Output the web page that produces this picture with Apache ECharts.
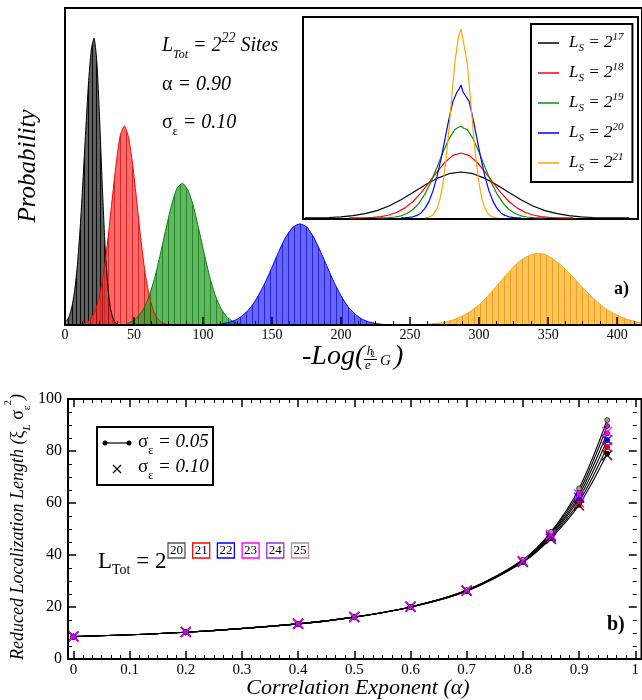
<!DOCTYPE html>
<html>
<head>
<meta charset="utf-8">
<script src="https://cdn.jsdelivr.net/npm/echarts@6.0.0/dist/echarts.min.js"></script>
<style>
html, body { margin: 0; padding: 0; background: #fff; }
#chart { width: 642px; height: 700px; }
</style>
</head>
<body>
<div id="chart"></div>
<script>
// panel a) histograms of -Log(h/e^2 G), heights relative to panel height
const blackX = [1, 3, 5, 7, 9, 11, 13, 15, 17, 19, 21, 23, 25, 27, 29, 31, 33, 35, 37, 39, 41];
const blackP = [0.012, 0.027, 0.057, 0.109, 0.19, 0.307, 0.454, 0.613, 0.761, 0.867, 0.905, 0.835, 0.657, 0.441, 0.251, 0.122, 0.051, 0.018, 0.005, 0.001, 0];
const redX = [13, 16, 19, 22, 25, 28, 31, 34, 37, 40, 43, 46, 49, 52, 55, 58, 61, 64, 67, 70, 73];
const redP = [0.003, 0.0085, 0.021, 0.046, 0.093, 0.166, 0.268, 0.389, 0.507, 0.598, 0.628, 0.592, 0.507, 0.389, 0.268, 0.166, 0.093, 0.046, 0.021, 0.0085, 0.003];
const greenX = [45, 49, 53, 57, 61, 65, 69, 73, 77, 81, 85, 89, 93, 97, 101, 105, 109, 113, 117, 121, 125, 129];
const greenP = [0.0055, 0.0127, 0.027, 0.052, 0.092, 0.149, 0.222, 0.301, 0.375, 0.43, 0.447, 0.426, 0.375, 0.301, 0.222, 0.149, 0.092, 0.052, 0.027, 0.0127, 0.0055, 0.002];
const blueX = [110, 115, 120, 125, 130, 135, 140, 145, 150, 155, 160, 165, 170, 175, 180, 185, 190, 195, 200, 205, 210, 215, 220, 225, 230];
const blueP = [0.0022, 0.0048, 0.010, 0.019, 0.035, 0.058, 0.092, 0.134, 0.183, 0.233, 0.278, 0.308, 0.319, 0.31, 0.278, 0.233, 0.183, 0.134, 0.092, 0.058, 0.035, 0.019, 0.010, 0.0048, 0.0022];
const orangeX = [258, 264, 270, 276, 282, 288, 294, 300, 306, 312, 318, 324, 330, 336, 342, 348, 354, 360, 366, 372, 378, 384, 390, 396, 402, 408, 414, 420];
const orangeP = [0.0015, 0.003, 0.0056, 0.010, 0.0175, 0.028, 0.044, 0.064, 0.090, 0.119, 0.150, 0.179, 0.204, 0.218, 0.226, 0.222, 0.207, 0.186, 0.160, 0.132, 0.105, 0.079, 0.057, 0.040, 0.027, 0.017, 0.010, 0.006];

// inset: distributions for each L_S, centred
const insetBlackX = [-156, -144, -132, -120, -108, -96, -84, -72, -60, -48, -36, -24, -12, 0, 12, 24, 36, 48, 60, 72, 84, 96, 108, 120, 132, 144, 156, 168];
const insetBlackY = [0.08, 0.22, 0.51, 1.1, 2.3, 4.3, 7.4, 12.0, 18.2, 25.4, 32.9, 39.6, 44.3, 46, 44.3, 39.6, 32.9, 25.4, 18.2, 12.0, 7.4, 4.3, 2.3, 1.1, 0.51, 0.22, 0.08, 0.03];
const insetRedX = [-112, -104, -96, -88, -80, -72, -64, -56, -48, -40, -32, -24, -16, -8, 0, 8, 16, 24, 32, 40, 48, 56, 64, 72, 80, 88, 96, 104, 112];
const insetRedY = [0.04, 0.10, 0.27, 0.65, 1.45, 3.0, 5.7, 10.1, 16.5, 25.1, 35.4, 46.2, 55.8, 62.6, 65, 62.6, 55.8, 46.2, 35.4, 25.1, 16.5, 10.1, 5.7, 3.0, 1.45, 0.65, 0.27, 0.10, 0.04];
const insetGreenX = [-84, -78, -72, -66, -60, -54, -48, -42, -36, -30, -24, -18, -12, -6, -3, 0, 3, 6, 12, 18, 24, 30, 36, 42, 48, 54, 60, 66, 72, 78, 84];
const insetGreenY = [0.06, 0.17, 0.43, 1.02, 2.2, 4.5, 8.5, 14.9, 24.1, 36.3, 50.8, 65.9, 79.3, 88.6, 90.5, 92, 89.5, 88.6, 79.3, 65.9, 50.8, 36.3, 24.1, 14.9, 8.5, 4.5, 2.2, 1.02, 0.43, 0.17, 0.06];
const insetBlueX = [-60, -56, -52, -48, -44, -40, -36, -32, -28, -24, -20, -16, -12, -8, -4, -2, 0, 2, 4, 8, 12, 16, 20, 24, 28, 32, 36, 40, 44, 48, 52, 56, 60];
const insetBlueY = [0.09, 0.23, 0.56, 1.2, 2.6, 5.1, 9.6, 16.6, 27.1, 41.3, 59.2, 79.1, 99.3, 116.8, 126, 128.7, 133, 126, 125.5, 116.8, 99.3, 79.1, 59.2, 41.3, 27.1, 16.6, 9.6, 5.1, 2.6, 1.2, 0.56, 0.23, 0.09];
const insetOrangeX = [-36, -33, -30, -27, -24, -21, -18, -15, -12, -9, -6, -3, -1.5, 0, 1.5, 3, 6, 9, 12, 15, 18, 21, 24, 27, 30, 33, 36];
const insetOrangeY = [0.22, 0.65, 1.75, 4.2, 9.4, 19.1, 34.9, 58.6, 89.2, 124, 156.7, 178, 185, 189, 181, 180.3, 156.7, 124, 89.2, 58.6, 34.9, 19.1, 9.4, 4.2, 1.75, 0.65, 0.22];

// panel b) reduced localization length vs alpha
const alphaVals = [0, 0.2, 0.4, 0.5, 0.6, 0.7, 0.8, 0.85, 0.9, 0.95];
const xi05_L20 = [8.6, 10.3, 13.5, 16.1, 20.0, 26.1, 37.2, 46.4, 59.3, 79.0];
const xi05_L21 = [8.6, 10.3, 13.5, 16.1, 20.0, 26.2, 37.4, 46.9, 60.5, 81.5];
const xi05_L22 = [8.6, 10.3, 13.5, 16.1, 20.0, 26.3, 37.6, 47.4, 61.8, 84.2];
const xi05_L23 = [8.6, 10.3, 13.5, 16.1, 20.0, 26.3, 37.8, 47.9, 63.0, 86.8];
const xi05_L24 = [8.6, 10.3, 13.5, 16.1, 20.0, 26.4, 38.0, 48.4, 64.3, 89.6];
const xi05_L25 = [8.6, 10.3, 13.5, 16.1, 20.0, 26.5, 38.2, 48.9, 65.6, 91.9];
const xi10_L20 = [8.7, 10.4, 13.6, 16.2, 20.1, 26.2, 37.3, 46.2, 59.0, 78.4];
const xi10_L21 = [8.7, 10.4, 13.6, 16.2, 20.1, 26.3, 37.4, 46.7, 60.2, 81.5];
const xi10_L22 = [8.7, 10.4, 13.6, 16.2, 20.1, 26.3, 37.6, 47.2, 62.0, 84.2];
const xi10_L23 = [8.7, 10.4, 13.6, 16.2, 20.1, 26.3, 37.7, 47.8, 63.3, 87.3];
const totExponents = ['20', '21', '22', '23', '24', '25'];
const totColors = ['#000000', '#ff0000', '#0000ff', '#ff00ff', '#9932cc', '#bc8f8f'];

const SERIF = '"Liberation Serif", "DejaVu Serif", serif';
const CROSS = 'path://M1,0 L5,4 L9,0 L10,1 L6,5 L10,9 L9,10 L5,6 L1,10 L0,9 L4,5 L0,1 Z';

const chart = echarts.init(document.getElementById('chart'));

const pairs = (xs, ys) => xs.map((x, i) => [x, ys[i]]);

// vertical striped fill like the printed histogram bars
const stripeFill = (light, dark, period) => {
  const c = document.createElement('canvas');
  c.width = period;
  c.height = 4;
  const g = c.getContext('2d');
  g.fillStyle = light;
  g.fillRect(0, 0, period, 4);
  g.clearRect(0, 0, 1, 4);
  g.fillStyle = dark;
  g.fillRect(0, 0, 1, 4);
  return { image: c, repeat: 'repeat' };
};

const histSeries = (xs, ps, line, fill) => ({
  type: 'line',
  xAxisIndex: 0,
  yAxisIndex: 0,
  data: pairs(xs, ps),
  symbol: 'none',
  smooth: 0.2,
  silent: true,
  z: 1,
  lineStyle: { color: line, width: 1 },
  areaStyle: { color: fill, opacity: 1 },
});

const insetSeries = (name, xs, ys, color) => ({
  name: name,
  type: 'line',
  xAxisIndex: 1,
  yAxisIndex: 1,
  data: pairs(xs, ys),
  symbol: 'none',
  lineStyle: { color: color, width: 1.2 },
  itemStyle: { color: color },
});

const xiLine = (vals, color) => ({
  type: 'line',
  xAxisIndex: 2,
  yAxisIndex: 2,
  data: pairs(alphaVals, vals),
  smooth: 0.35,
  symbol: 'circle',
  symbolSize: 5,
  lineStyle: { color: '#000', width: 1.1 },
  itemStyle: { color: color, borderColor: '#000', borderWidth: 0.6 },
  z: 3,
});

const xiCross = (vals, color) => ({
  type: 'scatter',
  xAxisIndex: 2,
  yAxisIndex: 2,
  data: pairs(alphaVals, vals),
  symbol: CROSS,
  symbolSize: 11,
  itemStyle: { color: color },
  z: 4,
});

const tickAxis = (extra) => Object.assign({
  type: 'value',
  axisLine: { show: false, onZero: false },
  axisTick: { inside: true, length: 8, lineStyle: { color: '#000', width: 1.5 } },
  minorTick: { show: true, length: 4, lineStyle: { color: '#000', width: 1 } },
  splitLine: { show: false },
  axisLabel: { color: '#000', fontFamily: SERIF, fontSize: 15 },
}, extra);

const serifStyle = (size) => ({
  i: { fontFamily: SERIF, fontStyle: 'italic', fontSize: size, lineHeight: 30, fill: '#000' },
  g: { fontFamily: SERIF, fontSize: size, lineHeight: 30, fill: '#000' },
  b: { fontFamily: SERIF, fontSize: size, lineHeight: 30, fill: '#000' },
  sub: { fontFamily: SERIF, fontStyle: 'italic', fontSize: Math.round(size * 0.62), lineHeight: 12, verticalAlign: 'bottom', fill: '#000' },
  subr: { fontFamily: SERIF, fontSize: Math.round(size * 0.62), lineHeight: 12, verticalAlign: 'bottom', fill: '#000' },
  sup: { fontFamily: SERIF, fontStyle: 'italic', fontSize: Math.round(size * 0.68), lineHeight: 12, verticalAlign: 'top', fill: '#000' },
  supr: { fontFamily: SERIF, fontSize: Math.round(size * 0.62), lineHeight: 12, verticalAlign: 'top', fill: '#000' },
});

const richText = (x, y, text, size, rot) => ({
  type: 'text',
  x: x,
  y: y,
  rotation: rot || 0,
  z: 20,
  style: { text: text, rich: serifStyle(size), align: rot ? 'center' : 'left', verticalAlign: 'middle' },
});

const plainText = (x, y, text, size, opts) => ({
  type: 'text',
  x: x,
  y: y,
  z: 20,
  style: Object.assign({
    text: text, fontFamily: SERIF, fontSize: size, fill: '#000',
    align: 'left', verticalAlign: 'middle',
  }, opts || {}),
});

// little boxed exponents next to L_Tot = 2
const totBoxes = [];
totExponents.forEach((e, i) => {
  const bx = 168 + i * 24.7;
  totBoxes.push({
    type: 'rect', z: 20,
    shape: { x: bx, y: 543, width: 17, height: 15 },
    style: { fill: 'none', stroke: totColors[i] === '#000000' ? '#555' : totColors[i], lineWidth: 1.3 },
  });
  totBoxes.push(plainText(bx + 8.5, 550.5, e, 13, { align: 'center' }));
});

const option = {
  backgroundColor: '#fff',
  animation: false,
  grid: [
    { left: 65, top: 8, width: 580, height: 317, show: true, borderColor: '#000', borderWidth: 2, backgroundColor: 'transparent' },
    { left: 303, top: 17, width: 335, height: 202, show: true, borderColor: '#000', borderWidth: 2, backgroundColor: '#fff' },
    { left: 73.4, top: 399, width: 566.6, height: 260 },
  ],
  xAxis: [
    tickAxis({
      gridIndex: 0, min: 0, max: 418, interval: 50, position: 'bottom', z: 5,
      axisLine: { show: true, onZero: false, lineStyle: { color: '#000', width: 2 } },
      minorTick: { show: true, splitNumber: 4, length: 4, lineStyle: { color: '#000', width: 1 } },
      axisLabel: { color: '#000', fontFamily: SERIF, fontSize: 14, margin: 3, showMaxLabel: false },
    }),
    { gridIndex: 1, type: 'value', min: -158, max: 177, show: false },
    tickAxis({
      gridIndex: 2, min: 0, max: 1, interval: 0.1, position: 'bottom',
      minorTick: { show: true, splitNumber: 6, length: 4, lineStyle: { color: '#000', width: 1 } },
      axisLabel: {
        color: '#000', fontFamily: SERIF, fontSize: 15, margin: 4,
        formatter: (v) => (v === 0 ? '0' : v === 1 ? '1' : v.toFixed(1)),
      },
    }),
    tickAxis({
      gridIndex: 2, min: 0, max: 1, interval: 0.1, position: 'top',
      minorTick: { show: true, splitNumber: 6, length: 4, lineStyle: { color: '#000', width: 1 } },
      axisLabel: { show: false },
    }),
  ],
  yAxis: [
    { gridIndex: 0, type: 'value', min: 0, max: 1, show: false },
    { gridIndex: 1, type: 'value', min: -1, max: 201, show: false },
    tickAxis({
      gridIndex: 2, min: 0, max: 100, interval: 20, position: 'left', offset: 5.4,
      minorTick: { show: true, splitNumber: 4, length: 4, lineStyle: { color: '#000', width: 1 } },
      axisLabel: { color: '#000', fontFamily: SERIF, fontSize: 16, margin: 6 },
    }),
    tickAxis({
      gridIndex: 2, min: 0, max: 100, interval: 20, position: 'right', offset: 1.5,
      minorTick: { show: true, splitNumber: 4, length: 4, lineStyle: { color: '#000', width: 1 } },
      axisLabel: { show: false },
    }),
  ],
  legend: {
    data: ['L17', 'L18', 'L19', 'L20', 'L21'],
    orient: 'vertical',
    left: 531,
    top: 24,
    padding: [8, 9, 8, 7],
    itemGap: 8,
    itemWidth: 21,
    itemHeight: 1.5,
    icon: 'rect',
    borderColor: '#000',
    borderWidth: 2,
    backgroundColor: '#fff',
    selectedMode: false,
    formatter: (n) => '{i|L}{sub|S}{i| = 2}{sup|' + n.slice(1) + '}',
    textStyle: {
      padding: [0, 0, 0, 5],
      rich: {
        i: { fontFamily: SERIF, fontStyle: 'italic', fontSize: 17, lineHeight: 22, color: '#000' },
        sub: { fontFamily: SERIF, fontStyle: 'italic', fontSize: 11, lineHeight: 11, verticalAlign: 'bottom', color: '#000' },
        sup: { fontFamily: SERIF, fontStyle: 'italic', fontSize: 11, lineHeight: 11, verticalAlign: 'top', color: '#000' },
      },
    },
  },
  series: [
    histSeries(blackX, blackP, '#000', stripeFill('rgba(80,80,80,0.9)', 'rgba(0,0,0,0.95)', 4)),
    histSeries(redX, redP, '#ff0000', stripeFill('rgba(255,55,55,0.75)', 'rgba(205,0,0,0.85)', 6)),
    histSeries(greenX, greenP, '#008000', stripeFill('rgba(45,160,45,0.75)', 'rgba(0,115,0,0.85)', 6)),
    histSeries(blueX, blueP, '#0000ff', stripeFill('rgba(50,50,255,0.75)', 'rgba(0,0,200,0.85)', 6)),
    histSeries(orangeX, orangeP, '#ffa500', stripeFill('rgba(255,180,50,0.8)', 'rgba(235,150,0,0.9)', 6)),
    insetSeries('L17', insetBlackX, insetBlackY, '#000000'),
    insetSeries('L18', insetRedX, insetRedY, '#ff0000'),
    insetSeries('L19', insetGreenX, insetGreenY, '#108c10'),
    insetSeries('L20', insetBlueX, insetBlueY, '#0000ff'),
    insetSeries('L21', insetOrangeX, insetOrangeY, '#ffa500'),
    xiLine(xi05_L20, totColors[0]),
    xiLine(xi05_L21, totColors[1]),
    xiLine(xi05_L22, totColors[2]),
    xiLine(xi05_L23, totColors[3]),
    xiLine(xi05_L24, totColors[4]),
    xiLine(xi05_L25, totColors[5]),
    xiCross(xi10_L20, totColors[0]),
    xiCross(xi10_L21, totColors[1]),
    xiCross(xi10_L22, totColors[2]),
    xiCross(xi10_L23, totColors[3]),
  ],
  graphic: [
    // panel a) labels
    richText(28, 166, '{i|Probability}', 25, Math.PI / 2),
    plainText(302, 357, '-Log(', 28, { fontStyle: 'italic' }),
    plainText(370, 352, 'h', 13, { fontStyle: 'italic', align: 'center' }),
    { type: 'line', z: 20, shape: { x1: 364, y1: 359.5, x2: 377, y2: 359.5 }, style: { stroke: '#000', lineWidth: 1 } },
    richText(365, 366, '{i|e}{supr|2}', 13),
    plainText(380, 361, 'G', 15, { fontStyle: 'italic' }),
    plainText(394, 357, ')', 28, { fontStyle: 'italic' }),
    richText(162, 46, '{i|L}{sub|Tot}{i| = 2}{sup|22}{i| Sites}', 20),
    richText(162, 85, '{g|α}{i| = 0.90}', 20),
    richText(162, 123, '{g|σ}{subr|ε}{i| = 0.10}', 20),
    plainText(614, 289, 'a)', 18, { fontWeight: 'bold' }),
    // panel b) frame and labels
    {
      type: 'rect', z: 20,
      shape: { x: 68, y: 399, width: 573.5, height: 260 },
      style: { fill: 'none', stroke: '#000', lineWidth: 2 },
    },
    {
      type: 'rect', z: 20,
      shape: { x: 97, y: 427, width: 116, height: 58 },
      style: { fill: '#fff', stroke: '#000', lineWidth: 2 },
    },
    { type: 'line', z: 21, shape: { x1: 105, y1: 443, x2: 129, y2: 443 }, style: { stroke: '#000', lineWidth: 1.2 } },
    { type: 'circle', z: 21, shape: { cx: 105, cy: 443, r: 2.5 }, style: { fill: '#000' } },
    { type: 'circle', z: 21, shape: { cx: 129, cy: 443, r: 2.5 }, style: { fill: '#000' } },
    richText(138, 442, '{g|σ}{subr|ε}{i| = 0.05}', 19),
    { type: 'line', z: 21, shape: { x1: 113, y1: 465, x2: 121, y2: 473 }, style: { stroke: '#000', lineWidth: 1.2 } },
    { type: 'line', z: 21, shape: { x1: 121, y1: 465, x2: 113, y2: 473 }, style: { stroke: '#000', lineWidth: 1.2 } },
    richText(138, 467, '{g|σ}{subr|ε}{i| = 0.10}', 19),
    richText(98, 562, '{b|L}{subr|Tot}{b| = 2}', 23),
    ...totBoxes,
    richText(18, 527, '{i|Reduced Localization Length (}{g|ξ}{sub|L}{g| σ}{subr|ε}{supr|2}{i|)}', 18, Math.PI / 2),
    plainText(358, 688, 'Correlation Exponent (α)', 22, { fontStyle: 'italic', align: 'center' }),
    plainText(607, 625, 'b)', 20, { fontWeight: 'bold' }),
  ],
};

chart.setOption(option);
</script>
</body>
</html>
